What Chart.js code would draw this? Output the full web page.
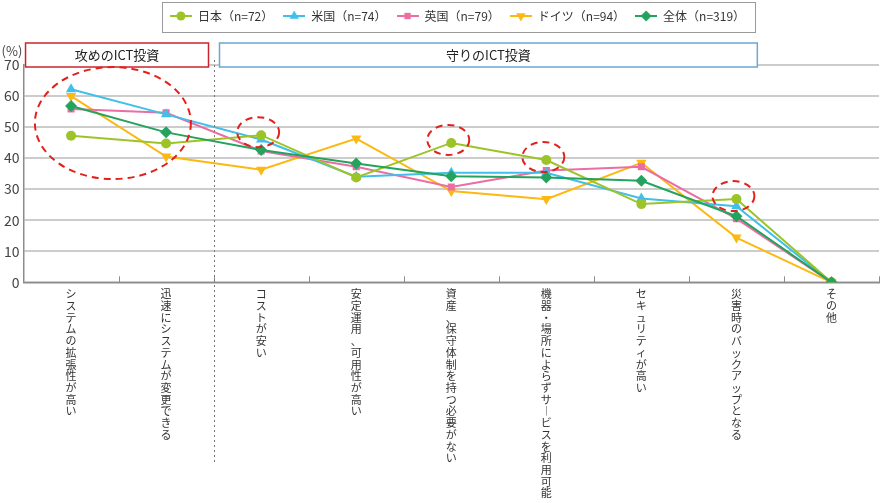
<!DOCTYPE html>
<html>
<head>
<meta charset="utf-8">
<script src="https://cdn.jsdelivr.net/npm/chart.js@4.4.1/dist/chart.umd.min.js"></script>
<style>
html, body { margin: 0; padding: 0; background: #fff; }
#wrap { width: 885px; height: 503px; }
</style>
</head>
<body>
<div id="wrap"><canvas id="chart"></canvas></div>
<script>
// ==============================
// DATA
// ==============================
const categories = [
    "システムの拡張性が高い",
    "迅速にシステムが変更できる",
    "コストが安い",
    "安定運用、可用性が高い",
    "資産、保守体制を持つ必要がない",
    "機器・場所によらずサービスを利用可能",
    "セキュリティが高い",
    "災害時のバックアップとなる",
    "その他"
];
const seriesNames = ["日本（n=72）", "米国（n=74）", "英国（n=79）", "ドイツ（n=94）", "全体（n=319）"];
const japan   = [47.2, 44.7, 47.4, 33.8, 44.9, 39.4, 25.2, 26.8, 0];
const usa     = [62.2, 54.1, 46.0, 34.0, 35.3, 35.3, 27.0, 24.5, 0];
const uk      = [55.8, 54.6, 42.3, 37.2, 30.7, 36.0, 37.2, 20.5, 0];
const germany = [60.0, 40.5, 36.3, 46.3, 29.4, 26.8, 38.5, 14.4, 0];
const total   = [56.8, 48.3, 42.6, 38.3, 34.2, 33.8, 32.7, 21.3, 0];
const yTicks  = [0, 10, 20, 30, 40, 50, 60, 70];
const groupLabels = ["攻めのICT投資", "守りのICT投資"];
// indexes of the points circled in red
const circled = [2, 4, 5, 7];

const colors  = ["#9cc428", "#41bfe9", "#ea6ea4", "#fcb813", "#23a35e"];
const styles  = ["circle", "triangle", "rect", "triangle", "rectRot"];
const rotations = [0, 0, 0, 180, 0];
const radii   = [5, 6, 5, 6, 6];

const FONT = "'Noto Sans CJK JP', 'Noto Sans', sans-serif";

// vertical text: one character per line
function verticalLabel(s) {
    return Array.from(s).map(c => c === "ー" ? "︱" : c);
}

// legend swatch: short line with marker
function swatch(i) {
    const c = document.createElement("canvas");
    c.width = 22;
    c.height = 14;
    const ctx = c.getContext("2d");
    ctx.strokeStyle = colors[i];
    ctx.fillStyle = colors[i];
    ctx.lineWidth = 2;
    ctx.beginPath();
    ctx.moveTo(0, 7);
    ctx.lineTo(22, 7);
    ctx.stroke();
    Chart.helpers.drawPoint(ctx, {
        pointStyle: styles[i], radius: radii[i] - 0.5, rotation: rotations[i], borderWidth: 0
    }, 11, 7);
    return c;
}

const allValues = [japan, usa, uk, germany, total];

// ==============================
// ANNOTATIONS
// ==============================
const annotations = {
    id: "annotations",
    beforeInit(chart) {
        const fit = chart.legend.fit;
        chart.legend.fit = function () {
            fit.call(this);
            this.height += 33;
        };
    },
    afterLayout(chart) {
        // legend sits a little right of centre
        chart.legend.left += 16;
        chart.legend.right += 16;
    },
    afterDraw(chart) {
        const ctx = chart.ctx;
        const x = chart.scales.x;
        const y = chart.scales.y;
        const area = chart.chartArea;

        ctx.save();

        // legend frame
        const boxes = chart.legend.legendHitBoxes;
        if (boxes.length) {
            const l = boxes[0].left - 8;
            const last = boxes[boxes.length - 1];
            const r = last.left + last.width + 10;
            ctx.strokeStyle = "#9a9a9a";
            ctx.lineWidth = 1;
            ctx.strokeRect(Math.round(l) + 0.5, 2.5, Math.round(r - l), 30);
        }

        // category boundary ticks
        const step = x.getPixelForValue(1) - x.getPixelForValue(0);
        ctx.strokeStyle = "#8c8c8c";
        ctx.lineWidth = 1;
        for (let i = 0; i < categories.length; i++) {
            const px = Math.round(x.getPixelForValue(i) + step / 2) + 0.5;
            ctx.beginPath();
            ctx.moveTo(px, area.bottom);
            ctx.lineTo(px, area.bottom - 6);
            ctx.stroke();
        }

        // dotted separator
        const sep = Math.round((x.getPixelForValue(1) + x.getPixelForValue(2)) / 2) + 0.5;
        ctx.strokeStyle = "#777";
        ctx.setLineDash([2, 3]);
        ctx.beginPath();
        ctx.moveTo(sep, area.top - 5);
        ctx.lineTo(sep, chart.height - 38);
        ctx.stroke();
        ctx.setLineDash([]);

        // group boxes
        const groups = [
            { l: x.getPixelForValue(-0.5) + 2, r: sep - 6, color: "#c8262c", text: groupLabels[0] },
            { l: sep + 5, r: x.getPixelForValue(7) + step * 0.22, color: "#6ba6d4", text: groupLabels[1] }
        ];
        ctx.font = "13px " + FONT;
        ctx.textAlign = "center";
        ctx.textBaseline = "middle";
        groups.forEach(g => {
            ctx.fillStyle = "#fff";
            ctx.fillRect(g.l, area.top - 22, g.r - g.l, 24);
            ctx.strokeStyle = g.color;
            ctx.lineWidth = 1.5;
            ctx.strokeRect(g.l, area.top - 22, g.r - g.l, 24);
            ctx.fillStyle = "#222";
            ctx.fillText(g.text, (g.l + g.r) / 2, area.top - 10);
        });

        // unit
        ctx.font = "13px " + FONT;
        ctx.fillStyle = "#444";
        ctx.fillText("(%)", 12, area.top - 14);

        // red dashed ellipses
        ctx.strokeStyle = "#e3211c";
        ctx.lineWidth = 2;
        ctx.setLineDash([7, 5]);
        ctx.beginPath();
        ctx.ellipse(x.getPixelForValue(0.44), y.getPixelForValue(51.3), 78, 56, 0, 0, Math.PI * 2);
        ctx.stroke();
        circled.forEach(i => {
            ctx.beginPath();
            ctx.ellipse(x.getPixelForValue(i) - 3, y.getPixelForValue(japan[i]) - 3, 21, 15, 0, 0, Math.PI * 2);
            ctx.stroke();
        });
        ctx.restore();
    }
};

// ==============================
// CHART
// ==============================
new Chart(document.getElementById("chart"), {
    type: "line",
    data: {
        labels: categories.map(verticalLabel),
        datasets: allValues.map((vals, i) => ({
            label: seriesNames[i],
            data: vals,
            borderColor: colors[i],
            backgroundColor: colors[i],
            borderWidth: 2,
            pointStyle: styles[i],
            rotation: rotations[i],
            pointRadius: radii[i],
            pointHoverRadius: radii[i],
            pointBorderWidth: 0,
            tension: 0,
            order: i === 4 ? 0 : i + 1
        }))
    },
    options: {
        responsive: true,
        maintainAspectRatio: false,
        animation: false,
        layout: { padding: { left: 0, right: 2, top: 0, bottom: -2 } },
        plugins: {
            tooltip: { enabled: false },
            legend: {
                position: "top",
                labels: {
                    usePointStyle: true,
                    pointStyleWidth: 22,
                    padding: 10,
                    color: "#333",
                    font: { family: FONT, size: 12 },
                    generateLabels: () => seriesNames.map((name, i) => ({
                        text: name,
                        pointStyle: swatch(i),
                        fillStyle: colors[i],
                        strokeStyle: colors[i],
                        lineWidth: 0,
                        datasetIndex: i,
                        fontColor: "#333"
                    }))
                }
            }
        },
        scales: {
            x: {
                offset: true,
                afterFit: axis => { axis.paddingRight = 0; },
                grid: { display: false, drawTicks: false },
                border: { color: "#8c8c8c", width: 1.5 },
                ticks: {
                    autoSkip: false,
                    maxRotation: 0,
                    minRotation: 0,
                    padding: 6,
                    color: "#333",
                    font: { family: FONT, size: 11, lineHeight: 1.064 }
                }
            },
            y: {
                min: 0,
                max: 70,
                afterBuildTicks: axis => { axis.ticks = yTicks.map(v => ({ value: v })); },
                grid: { color: "#cccccc", lineWidth: 2, drawTicks: false },
                border: { color: "#8c8c8c", width: 1.5 },
                ticks: {
                    padding: 4,
                    color: "#444",
                    font: { family: FONT, size: 14 }
                }
            }
        }
    },
    plugins: [annotations]
});
</script>
</body>
</html>
